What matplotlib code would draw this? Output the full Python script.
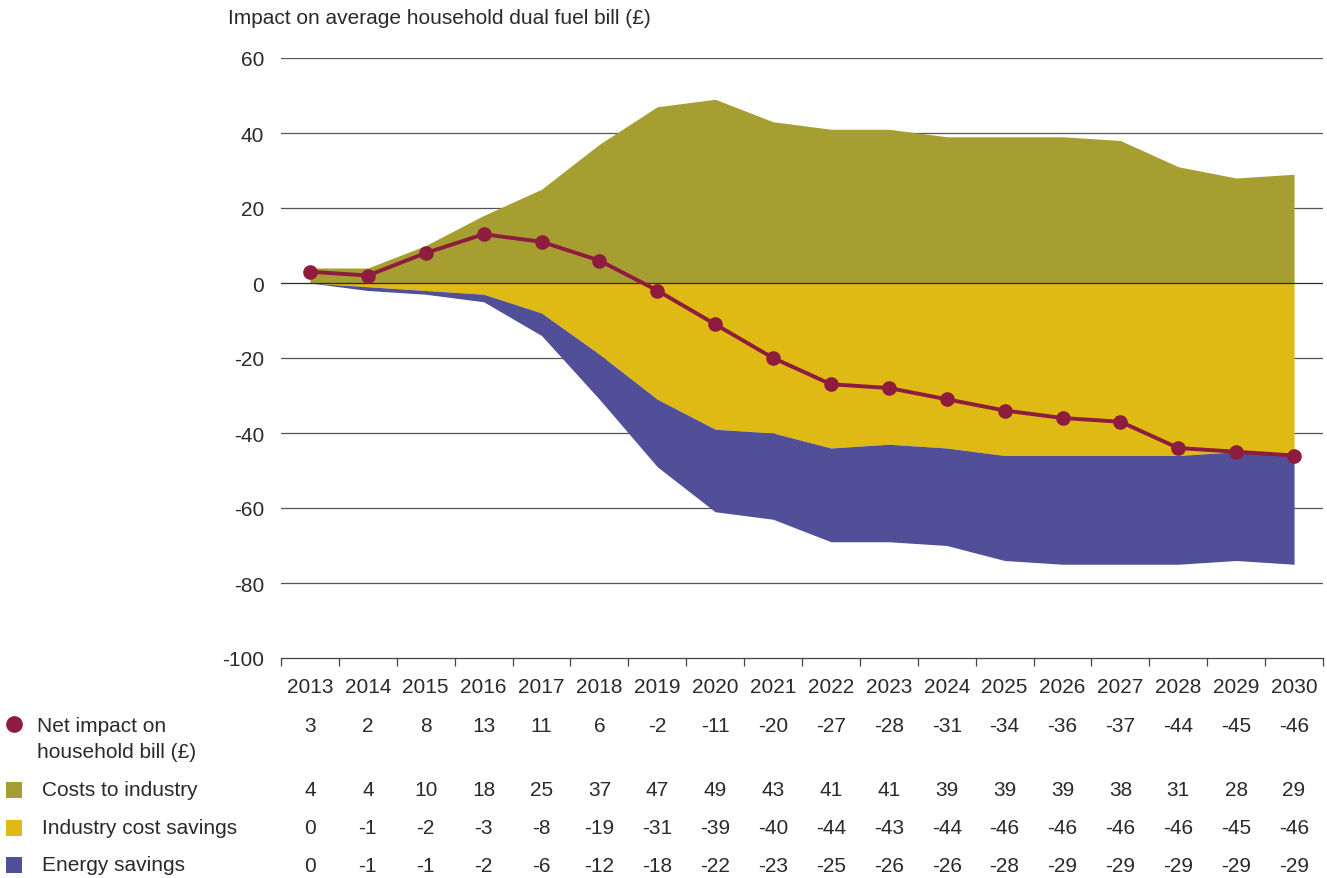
import matplotlib
matplotlib.use("Agg")
import matplotlib.pyplot as plt
import matplotlib.transforms as mtransforms
from matplotlib.patches import Rectangle
import numpy as np

years = ["2013", "2014", "2015", "2016", "2017", "2018", "2019", "2020", "2021",
         "2022", "2023", "2024", "2025", "2026", "2027", "2028", "2029", "2030"]
net_impact = [3, 2, 8, 13, 11, 6, -2, -11, -20, -27, -28, -31, -34, -36, -37, -44, -45, -46]
costs_to_industry = [4, 4, 10, 18, 25, 37, 47, 49, 43, 41, 41, 39, 39, 39, 38, 31, 28, 29]
industry_cost_savings = [0, -1, -2, -3, -8, -19, -31, -39, -40, -44, -43, -44, -46, -46, -46, -46, -45, -46]
energy_savings = [0, -1, -1, -2, -6, -12, -18, -22, -23, -25, -26, -26, -28, -29, -29, -29, -29, -29]
y_ticks = [60, 40, 20, 0, -20, -40, -60, -80, -100]

C_COST = "#A69E31"
C_IND = "#DFB914"
C_EN = "#524F99"
C_NET = "#8E1C3F"
TXT = "#2a2a2a"

plt.rcParams['font.family'] = ['Liberation Sans', 'DejaVu Sans']
FS = 15

W, H = 1327, 879
fig = plt.figure(figsize=(W / 100, H / 100), dpi=100)
ax_l, ax_r, ax_t, ax_b = 281, 1323, 59, 659
ax = fig.add_axes([ax_l / W, 1 - ax_b / H, (ax_r - ax_l) / W, (ax_b - ax_t) / H])

x = np.arange(len(years))
ind = np.array(industry_cost_savings, dtype=float)
en = np.array(energy_savings, dtype=float)
cost = np.array(costs_to_industry, dtype=float)

ax.fill_between(x, 0, cost, color=C_COST, lw=0, zorder=2)
ax.fill_between(x, 0, ind, color=C_IND, lw=0, zorder=2)
ax.fill_between(x, ind, ind + en, color=C_EN, lw=0, zorder=2)
ax.axhline(0, color="#2a2a2a", lw=0.9, zorder=3)
ax.plot(x, net_impact, color=C_NET, lw=2.8, marker="o", markersize=9.5, zorder=4)

ax.set_xlim(-0.5, len(years) - 0.5)
ax.set_ylim(-100, 60)
ax.set_yticks(y_ticks)
ax.set_yticklabels([str(v) for v in y_ticks], fontsize=FS, color=TXT)
ax.tick_params(axis="y", length=0, pad=12)
for v in y_ticks:
    if v not in (0, -100):
        ax.axhline(v, color="#555555", lw=0.9, zorder=1)

ax.set_xticks(np.arange(-0.5, len(years), 1.0))
ax.set_xticklabels([])
ax.tick_params(axis="x", which="major", direction="out", length=6, width=0.9, color="#444444")
ax.set_xticks(x, minor=True)
ax.set_xticklabels(years, minor=True, fontsize=FS, color=TXT)
ax.tick_params(axis="x", which="minor", length=0, pad=14)

for s in ["top", "right", "left"]:
    ax.spines[s].set_visible(False)
ax.spines["bottom"].set_color("#444444")
ax.spines["bottom"].set_linewidth(0.9)

fig.text(228 / W, 1 - 18 / H, "Impact on average household dual fuel bill (£)",
         fontsize=FS, color=TXT, ha="left", va="center")

# table rows
trans = mtransforms.blended_transform_factory(ax.transData, fig.transFigure)
rows = [(net_impact, 727), (costs_to_industry, 791), (industry_cost_savings, 829), (energy_savings, 867)]
for vals, ypx in rows:
    for xi, v in zip(x, vals):
        ax.text(xi, 1 - ypx / H, str(v), transform=trans, ha="center", va="center",
                fontsize=FS, color=TXT, clip_on=False)

# legend
fig.text(37 / W, 1 - 727 / H, "Net impact on", fontsize=FS, color=TXT, ha="left", va="center")
fig.text(37 / W, 1 - 753 / H, "household bill (£)", fontsize=FS, color=TXT, ha="left", va="center")
fig.text(42 / W, 1 - 791 / H, "Costs to industry", fontsize=FS, color=TXT, ha="left", va="center")
fig.text(42 / W, 1 - 829 / H, "Industry cost savings", fontsize=FS, color=TXT, ha="left", va="center")
fig.text(42 / W, 1 - 866 / H, "Energy savings", fontsize=FS, color=TXT, ha="left", va="center")

fig.add_artist(plt.Line2D([14 / W], [1 - 725 / H], marker="o", markersize=11, color=C_NET,
                          transform=fig.transFigure))
for c, ypx in [(C_COST, 791), (C_IND, 829), (C_EN, 866)]:
    fig.add_artist(Rectangle((6 / W, 1 - (ypx + 8) / H), 16 / W, 16 / H, color=c,
                             transform=fig.transFigure, lw=0))

fig.savefig("out.png", dpi=100)
